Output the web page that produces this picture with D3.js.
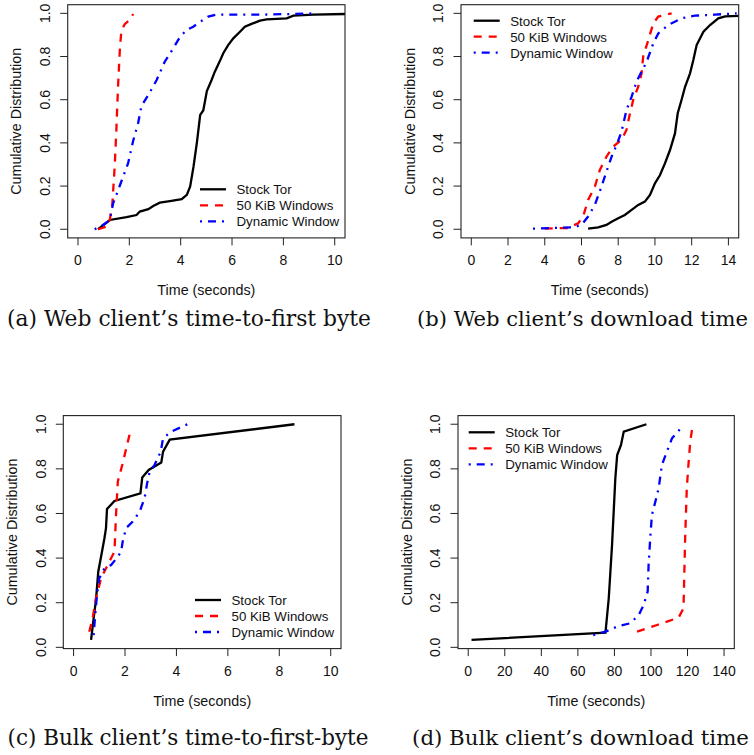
<!DOCTYPE html>
<html>
<head>
<meta charset="utf-8">
<script src="https://cdn.jsdelivr.net/npm/d3@7"></script>
<style>
  body { margin: 0; background: #fff; }
  svg { display: block; }
</style>
</head>
<body>
<div id="chart"></div>
<script>
// Series labels shared by all four panels
const seriesNames = ["Stock Tor", "50 KiB Windows", "Dynamic Window"];
const seriesColors = ["#000000", "#ff0000", "#0000ff"];

// Tick values
const yTicks = [0, 0.2, 0.4, 0.6, 0.8, 1.0];
const xTicksTen = [0, 2, 4, 6, 8, 10];
const xTicksFourteen = [0, 2, 4, 6, 8, 10, 12, 14];
const xTicksBulk = [0, 20, 40, 60, 80, 100, 120, 140];

// Captions under each panel
const captions = [
  "(a) Web client\u2019s time-to-first byte",
  "(b) Web client\u2019s download time",
  "(c) Bulk client\u2019s time-to-first-byte",
  "(d) Bulk client\u2019s download time"
];

// (a) web time-to-first-byte, [seconds, cdf]
const webTtfbStock = [[0.78,0],[1.24,0.043],[1.89,0.056],[2.28,0.066],[2.41,0.082],[2.74,0.093],[2.93,0.108],[3.19,0.123],[3.58,0.13],[4.04,0.139],[4.24,0.159],[4.37,0.198],[4.5,0.29],[4.63,0.40],[4.76,0.53],[4.88,0.55],[5.02,0.64],[5.2,0.69],[5.33,0.73],[5.53,0.78],[5.66,0.815],[5.85,0.853],[6.05,0.884],[6.31,0.915],[6.5,0.938],[6.76,0.951],[7.09,0.966],[7.35,0.972],[8.13,0.977],[8.39,0.989],[9.17,0.994],[10.4,0.997]];
const webTtfbFixed = [[0.78,0],[1.11,0.012],[1.24,0.043],[1.34,0.12],[1.43,0.29],[1.5,0.475],[1.56,0.66],[1.63,0.83],[1.69,0.92],[1.82,0.95],[2.02,0.97],[2.15,0.997]];
const webTtfbDynamic = [[0.65,0],[0.98,0.02],[1.24,0.043],[1.37,0.12],[1.56,0.18],[1.76,0.244],[1.95,0.305],[2.15,0.41],[2.34,0.49],[2.47,0.57],[2.73,0.62],[3.06,0.69],[3.38,0.776],[3.71,0.838],[3.97,0.89],[4.23,0.923],[4.49,0.938],[4.75,0.96],[5.07,0.985],[5.4,0.994],[7.09,0.994],[8.39,0.997],[9.3,1.0]];

// (b) web download time
const webDlStock = [[6.36,0.003],[6.91,0.009],[7.36,0.02],[7.64,0.035],[8.0,0.051],[8.36,0.066],[8.73,0.09],[9.09,0.113],[9.45,0.128],[9.73,0.159],[10.0,0.213],[10.27,0.25],[10.55,0.306],[10.82,0.367],[11.09,0.444],[11.24,0.537],[11.45,0.6],[11.64,0.66],[11.91,0.722],[12.09,0.784],[12.27,0.853],[12.64,0.915],[13.0,0.946],[13.45,0.977],[13.82,0.986],[14.55,0.988]];
const webDlFixed = [[4.0,0.003],[5.27,0.006],[5.82,0.028],[6.09,0.059],[6.36,0.136],[6.73,0.198],[7.0,0.275],[7.36,0.336],[7.73,0.383],[8.18,0.414],[8.45,0.46],[8.64,0.537],[8.82,0.6],[9.09,0.66],[9.27,0.722],[9.36,0.8],[9.64,0.877],[9.91,0.954],[10.18,0.985],[10.91,1.0]];
const webDlDynamic = [[3.36,0.003],[4.55,0.006],[5.55,0.009],[6.0,0.02],[6.36,0.059],[6.73,0.113],[7.09,0.198],[7.36,0.267],[7.64,0.336],[7.95,0.398],[8.18,0.452],[8.45,0.552],[8.73,0.614],[9.0,0.684],[9.27,0.73],[9.55,0.776],[9.91,0.861],[10.18,0.907],[10.73,0.946],[11.45,0.977],[12.18,0.989],[13.27,0.994],[14.45,1.0]];

// (c) bulk time-to-first-byte
const bulkTtfbStock = [[0.68,0.033],[0.78,0.13],[0.87,0.212],[0.96,0.339],[1.07,0.407],[1.2,0.489],[1.26,0.534],[1.3,0.62],[1.59,0.656],[2.6,0.69],[2.67,0.761],[2.92,0.795],[3.41,0.828],[3.48,0.877],[3.74,0.931],[8.59,1.0]];
const bulkTtfbFixed = [[0.61,0.07],[0.74,0.13],[0.87,0.22],[1.07,0.31],[1.39,0.384],[1.59,0.429],[1.65,0.593],[1.72,0.743],[1.91,0.825],[2.11,0.922],[2.24,0.982]];
const bulkTtfbDynamic = [[0.78,0.055],[0.83,0.13],[0.91,0.235],[1.0,0.31],[1.2,0.354],[1.46,0.369],[1.72,0.406],[1.85,0.429],[1.91,0.474],[2.04,0.534],[2.3,0.564],[2.57,0.608],[2.76,0.668],[2.86,0.735],[2.96,0.788],[3.15,0.818],[3.39,0.877],[3.48,0.937],[3.8,0.967],[4.43,1.0]];

// (d) bulk download time
const bulkDlStock = [[1.8,0.033],[75.1,0.066],[76.9,0.22],[78.7,0.459],[80.5,0.758],[81.5,0.862],[83.6,0.907],[85.1,0.967],[97.5,1.0]];
const bulkDlFixed = [[92.4,0.07],[103.3,0.1],[115.1,0.133],[117.8,0.175],[118.7,0.489],[119.6,0.713],[120.5,0.818],[121.5,0.922],[122.9,1.0]];
const bulkDlDynamic = [[68.4,0.055],[75.1,0.07],[81.5,0.093],[88.7,0.108],[93.3,0.145],[96.0,0.19],[98.2,0.25],[98.7,0.369],[99.6,0.489],[100.5,0.593],[102.4,0.653],[104.2,0.713],[106.0,0.818],[108.7,0.877],[111.5,0.937],[116.0,0.979]];

const width = 754, height = 755;
const sans = "'Liberation Sans', Arial, Helvetica, sans-serif";
const serif = "'DejaVu Serif', 'Liberation Serif', serif";
const dashes = [null, "8,7", "2,6,8,6"];

const svg = d3.select("#chart").append("svg")
    .attr("width", width)
    .attr("height", height);

svg.append("rect").attr("width", width).attr("height", height).attr("fill", "#fff");

// panel layout: box edges, domains, legend spot, caption spot
const panels = [
  { box: [67.7, 345, 4.7, 237.9], xDom: [-0.4, 10.4], yDom: [-0.04, 1.04], xTicks: xTicksTen,
    series: [webTtfbStock, webTtfbFixed, webTtfbDynamic],
    legend: { x: 200, y: 189.3 }, cap: { x: 189, y: 326, w: 364 }, caption: captions[0] },
  { box: [461, 738.7, 4.7, 237.9], xDom: [-0.56, 14.56], yDom: [-0.04, 1.04], xTicks: xTicksFourteen,
    series: [webDlStock, webDlFixed, webDlDynamic],
    legend: { x: 473.7, y: 20.7 }, cap: { x: 582.5, y: 326, w: 331 }, caption: captions[1] },
  { box: [63.3, 341, 415.6, 648.6], xDom: [-0.4, 10.4], yDom: [-0.0057, 1.0387], xTicks: xTicksTen,
    series: [bulkTtfbStock, bulkTtfbFixed, bulkTtfbDynamic],
    legend: { x: 195, y: 600 }, cap: { x: 188, y: 745, w: 361 }, caption: captions[2] },
  { box: [458, 734.3, 415.6, 648.6], xDom: [-5.6, 145.6], yDom: [-0.0057, 1.0387], xTicks: xTicksBulk,
    series: [bulkDlStock, bulkDlFixed, bulkDlDynamic],
    legend: { x: 468.7, y: 432.3 }, cap: { x: 580.5, y: 745, w: 337 }, caption: captions[3] }
];

panels.forEach(p => {
  const [left, right, top, bottom] = p.box;
  const x = d3.scaleLinear().domain(p.xDom).range([left, right]);
  const y = d3.scaleLinear().domain(p.yDom).range([bottom, top]);
  const g = svg.append("g");

  // curves
  const line = d3.line().x(d => x(d[0])).y(d => y(d[1]));
  p.series.forEach((s, i) => {
    g.append("path")
      .datum(s)
      .attr("d", line)
      .attr("fill", "none")
      .attr("stroke", seriesColors[i])
      .attr("stroke-width", 2.3)
      .attr("stroke-dasharray", dashes[i]);
  });

  // box
  g.append("rect")
    .attr("x", left).attr("y", top)
    .attr("width", right - left).attr("height", bottom - top)
    .attr("fill", "none").attr("stroke", "#222").attr("stroke-width", 1.1);

  // x axis ticks + labels
  p.xTicks.forEach(t => {
    g.append("line")
      .attr("x1", x(t)).attr("x2", x(t))
      .attr("y1", bottom).attr("y2", bottom + 7.5)
      .attr("stroke", "#222").attr("stroke-width", 1);
    g.append("text")
      .attr("x", x(t)).attr("y", bottom + 27.5)
      .attr("text-anchor", "middle")
      .style("font", `14px ${sans}`)
      .attr("fill", "#111")
      .text(t);
  });

  // y axis ticks + rotated labels
  yTicks.forEach(t => {
    g.append("line")
      .attr("x1", left - 7.5).attr("x2", left)
      .attr("y1", y(t)).attr("y2", y(t))
      .attr("stroke", "#222").attr("stroke-width", 1);
    g.append("text")
      .attr("transform", `translate(${left - 17.7},${y(t)}) rotate(-90)`)
      .attr("text-anchor", "middle")
      .style("font", `14px ${sans}`)
      .attr("fill", "#111")
      .text(d3.format(".1f")(t));
  });

  // axis titles
  g.append("text")
    .attr("x", (left + right) / 2).attr("y", bottom + 57)
    .attr("text-anchor", "middle")
    .style("font", `14.3px ${sans}`)
    .attr("fill", "#111")
    .text("Time (seconds)");
  g.append("text")
    .attr("transform", `translate(${left - 46.5},${(top + bottom) / 2}) rotate(-90)`)
    .attr("text-anchor", "middle")
    .style("font", `14.3px ${sans}`)
    .attr("fill", "#111")
    .text("Cumulative Distribution");

  // legend (no frame)
  seriesNames.forEach((name, i) => {
    const ly = p.legend.y + i * 16;
    g.append("line")
      .attr("x1", p.legend.x).attr("x2", p.legend.x + 26)
      .attr("y1", ly).attr("y2", ly)
      .attr("stroke", seriesColors[i])
      .attr("stroke-width", 2.3)
      .attr("stroke-dasharray", dashes[i]);
    g.append("text")
      .attr("x", p.legend.x + 36.5).attr("y", ly + 4.8)
      .style("font", `13.3px ${sans}`)
      .attr("fill", "#111")
      .text(name);
  });

  // caption, font size fitted to the measured width
  const cap = svg.append("text")
    .attr("x", p.cap.x).attr("y", p.cap.y)
    .attr("text-anchor", "middle")
    .style("font-family", serif)
    .style("font-size", "18px")
    .attr("fill", "#111")
    .text(p.caption);
  const w = cap.node().getComputedTextLength();
  cap.style("font-size", (18 * p.cap.w / w).toFixed(2) + "px");
});
</script>
</body>
</html>
